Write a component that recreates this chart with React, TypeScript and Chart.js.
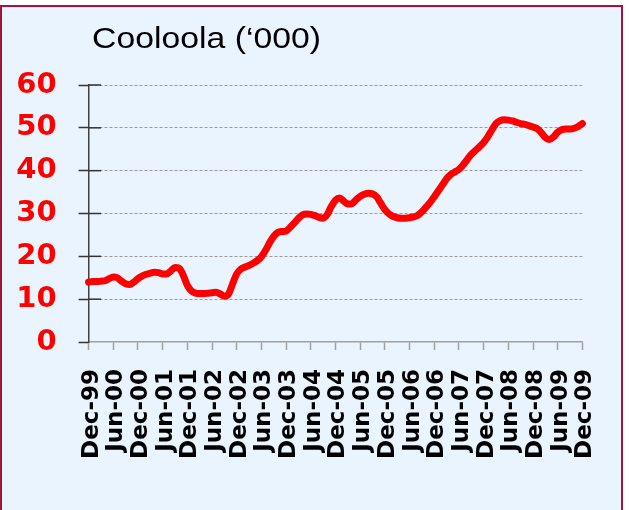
import React, { useEffect, useRef } from 'react';
import { Chart, registerables } from 'chart.js';

Chart.register(...registerables);

// Title of the chart
const titleText = 'Cooloola (\u2018000)';

// Tick labels on the x axis, one every six months from Dec-99
const tickLabels = [
  'Dec-99', 'Jun-00', 'Dec-00', 'Jun-01', 'Dec-01', 'Jun-02', 'Dec-02',
  'Jun-03', 'Dec-03', 'Jun-04', 'Dec-04', 'Jun-05', 'Dec-05', 'Jun-06',
  'Dec-06', 'Jun-07', 'Dec-07', 'Jun-08', 'Dec-08', 'Jun-09', 'Dec-09',
];
const monthsPerTick = 6;

// Monthly values ('000), Dec-99 .. Dec-09
const cooloolaValues = [
  14.0, 14.1, 14.1, 14.2, 14.3, 14.8, 15.2, 15.0, 14.2, 13.6, 13.4, 14.0,
  14.8, 15.4, 15.8, 16.1, 16.3, 16.2, 15.9, 15.9, 16.6, 17.4, 17.2, 15.6,
  13.2, 11.9, 11.4, 11.3, 11.3, 11.4, 11.5, 11.6, 11.2, 10.7, 11.2, 13.6,
  15.9, 17.0, 17.5, 17.9, 18.4, 19.0, 19.9, 21.4, 23.2, 24.7, 25.6, 25.8,
  25.9, 26.8, 27.8, 28.9, 29.7, 29.9, 29.8, 29.5, 29.1, 28.9, 29.8, 31.7,
  33.1, 33.6, 32.9, 32.2, 32.3, 33.2, 34.0, 34.5, 34.7, 34.6, 33.9, 32.4,
  30.9, 29.9, 29.3, 29.0, 28.9, 28.9, 29.0, 29.2, 29.6, 30.4, 31.5, 32.6,
  33.9, 35.3, 36.7, 38.1, 39.1, 39.7, 40.3, 41.3, 42.6, 43.8, 44.7, 45.6,
  46.6, 47.9, 49.5, 51.0, 51.7, 51.9, 51.8, 51.6, 51.3, 51.0, 50.8, 50.5,
  50.2, 49.8, 48.9, 47.7, 47.3, 47.9, 49.0, 49.6, 49.7, 49.7, 49.9, 50.3,
  51.0,
];

// Y axis range
const yMin = 0;
const yMax = 60;
const yStep = 10;

const titlePlugin = {
  id: 'customTitle',
  afterDraw(chart: any) {
    const ctx = chart.ctx as CanvasRenderingContext2D;
    ctx.save();
    ctx.font = '29px "Liberation Sans", Arial, sans-serif';
    ctx.fillStyle = '#000000';
    ctx.textBaseline = 'alphabetic';
    ctx.textAlign = 'left';
    const w = ctx.measureText(titleText).width;
    const targetW = 229;
    ctx.translate(92, 48.3);
    ctx.scale(targetW / w, 1);
    ctx.fillText(titleText, 0, 0);
    ctx.restore();
  },
};

const innerTicksPlugin = {
  id: 'innerTicks',
  beforeDatasetsDraw(chart: any) {
    const ctx = chart.ctx as CanvasRenderingContext2D;
    const yScale = chart.scales.y;
    const left = chart.chartArea.left;
    ctx.save();
    ctx.strokeStyle = '#333333';
    ctx.lineWidth = 1.5;
    yScale.ticks.forEach((t: any) => {
      if (t.value === 0) return;
      const py = yScale.getPixelForValue(t.value);
      ctx.beginPath();
      ctx.moveTo(left, py);
      ctx.lineTo(left + 12.5, py);
      ctx.stroke();
    });
    ctx.restore();
  },
};

export default function App() {
  const canvasRef = useRef<HTMLCanvasElement | null>(null);

  useEffect(() => {
    const canvas = canvasRef.current;
    if (!canvas) return;
    const chart = new Chart(canvas, {
      type: 'line',
      data: {
        datasets: [
          {
            label: titleText,
            data: cooloolaValues.map((v, i) => ({ x: i, y: v })),
            borderColor: '#FF0000',
            backgroundColor: '#FF0000',
            borderWidth: 7,
            borderCapStyle: 'round',
            borderJoinStyle: 'round',
            pointRadius: 0,
            pointHoverRadius: 0,
            cubicInterpolationMode: 'monotone',
            fill: false,
            clip: 10,
          } as any,
        ],
      },
      options: {
        animation: false,
        responsive: false,
        devicePixelRatio: 1,
        layout: { padding: { left: 0, top: 85, right: 41.5, bottom: 0 } },
        plugins: {
          legend: { display: false },
          title: { display: false },
          tooltip: { enabled: false },
        },
        scales: {
          x: {
            type: 'linear',
            min: 0,
            max: (tickLabels.length - 1) * monthsPerTick,
            afterFit: (scale: any) => {
              scale.height = 168;
            },
            grid: {
              drawOnChartArea: false,
              drawTicks: true,
              tickLength: 8,
              tickColor: '#A0A0A0',
              tickWidth: 1.5,
            },
            border: { display: true, color: '#A0A0A0', width: 1.5 },
            ticks: {
              stepSize: monthsPerTick,
              autoSkip: false,
              minRotation: 90,
              maxRotation: 90,
              padding: 19,
              labelOffset: 3,
              color: '#000000',
              font: { family: '"DejaVu Sans", Verdana, sans-serif', weight: 'bold', size: 23 },
              callback: (value: any) => {
                const idx = Math.round(Number(value) / monthsPerTick);
                return tickLabels[idx] ?? '';
              },
            },
          },
          y: {
            type: 'linear',
            min: yMin,
            max: yMax,
            afterFit: (scale: any) => {
              scale.width = 88.6;
            },
            grid: {
              drawOnChartArea: true,
              drawTicks: true,
              tickLength: 10,
              tickWidth: 1.5,
              tickColor: '#333333',
              lineWidth: 1,
              color: (ctx: any) => (ctx.tick && ctx.tick.value === 0 ? 'rgba(0,0,0,0)' : '#9A9A9A'),
            },
            border: { display: true, color: '#404040', width: 1.5, dash: [3, 2] },
            ticks: {
              stepSize: yStep,
              padding: 22,
              color: '#FF0000',
              font: { family: '"DejaVu Sans", Verdana, sans-serif', weight: 'bold', size: 29 },
              callback: (value: any) => String(value),
            },
          },
        },
      },
      plugins: [titlePlugin, innerTicksPlugin],
    });
    return () => chart.destroy();
  }, []);

  return (
    <div style={{ position: 'fixed', left: 0, top: 0, width: 629, height: 510, overflow: 'hidden' }}>
      <div
        style={{
          position: 'absolute',
          left: 0,
          top: 5,
          width: 623,
          height: 600,
          boxSizing: 'border-box',
          border: '2px solid #A8123A',
          background: '#EAF4FE',
        }}
      />
      <canvas
        ref={canvasRef}
        width={629}
        height={510}
        style={{ position: 'absolute', left: 0, top: 0, width: 629, height: 510 }}
      />
    </div>
  );
}
